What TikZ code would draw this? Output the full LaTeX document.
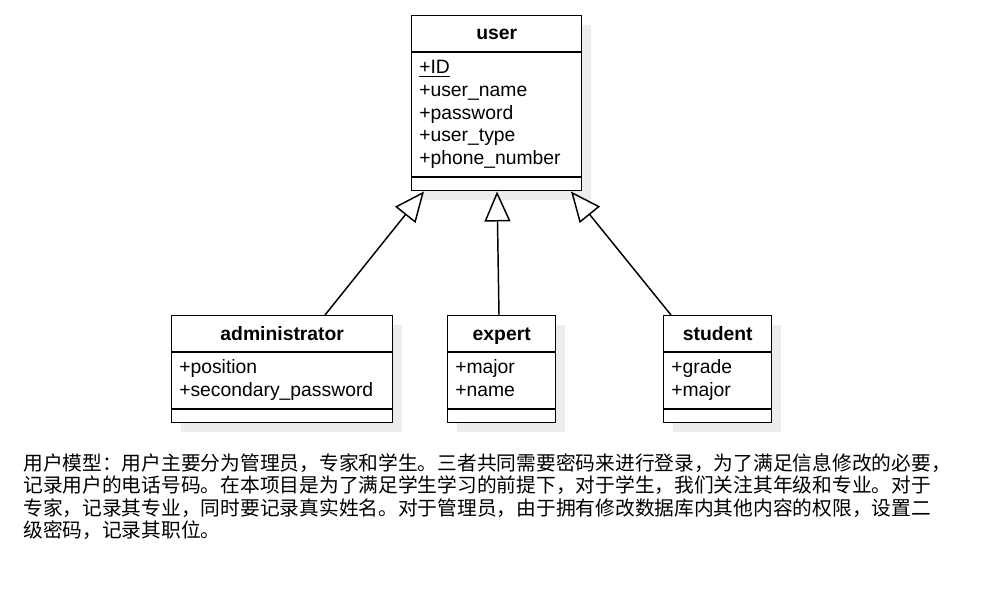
\documentclass[tikz,border=0pt]{standalone}
\usepackage{fontspec}
\setmainfont{Liberation Sans}
\newfontfamily\cjk{Noto Sans CJK SC}
\usetikzlibrary{arrows.meta,calc,shadows}
\begin{document}
\begin{tikzpicture}[x=0.75pt,y=-0.75pt,
  cls/.style={draw=black, line width=1.1pt, fill=white, anchor=north west, inner sep=0pt,
    general shadow={fill=black!7, shadow xshift=6.75pt, shadow yshift=-6.75pt}},
  sep/.style={line width=1.1pt},
  ttl/.style={font=\bfseries\fontsize{14.5}{16}\selectfont, anchor=base, inner sep=0pt},
  attr/.style={font=\fontsize{14.5}{16.9}\selectfont, anchor=base west, align=left, inner sep=0pt},
  para/.style={font=\cjk\fontsize{14.8}{16.9}\selectfont, anchor=base west, align=left, inner sep=0pt},
  inherit/.style={line width=1.1pt, -{Triangle[open, length=22.5pt, width=19.5pt, line width=1.1pt]}}
]
\fill[white] (0,0) rectangle (1005,610);
\useasboundingbox (0,0) rectangle (1005,610);

% user
\node[cls, minimum width=127.5pt, minimum height=131.25pt] (user) at (411,15) {};
\draw[sep] ($(user.north west)+(0,37)$) -- ($(user.north east)+(0,37)$);
\draw[sep] ($(user.north west)+(0,162)$) -- ($(user.north east)+(0,162)$);
\node[ttl] (usert) at ($(user.north)+(0,25)$) {user};
\node[attr] (usera) at ($(user.north west)+(8,149.1)$) {\underline{+ID}\\+user\_name\\+password\\+user\_type\\+phone\_number};

% administrator
\node[cls, minimum width=165.75pt, minimum height=80.25pt] (admin) at (171,315) {};
\draw[sep] ($(admin.north west)+(0,37)$) -- ($(admin.north east)+(0,37)$);
\draw[sep] ($(admin.north west)+(0,94)$) -- ($(admin.north east)+(0,94)$);
\node[ttl] (admint) at ($(admin.north)+(0,25)$) {administrator};
\node[attr] (admina) at ($(admin.north west)+(8,81.5)$) {+position\\+secondary\_password};

% expert
\node[cls, minimum width=81pt, minimum height=80.25pt] (expert) at (447,315) {};
\draw[sep] ($(expert.north west)+(0,37)$) -- ($(expert.north east)+(0,37)$);
\draw[sep] ($(expert.north west)+(0,94)$) -- ($(expert.north east)+(0,94)$);
\node[ttl] (expertt) at ($(expert.north)+(0,25)$) {expert};
\node[attr] (experta) at ($(expert.north west)+(8,81.5)$) {+major\\+name};

% student
\node[cls, minimum width=81pt, minimum height=80.25pt] (student) at (663,315) {};
\draw[sep] ($(student.north west)+(0,37)$) -- ($(student.north east)+(0,37)$);
\draw[sep] ($(student.north west)+(0,94)$) -- ($(student.north east)+(0,94)$);
\node[ttl] (studentt) at ($(student.north)+(0,25)$) {student};
\node[attr] (studenta) at ($(student.north west)+(8,81.5)$) {+grade\\+major};

% inheritance
\draw[inherit] ($(admin.north west)+(154,0)$) -- ($(user.south west)+(13,0)$);
\draw[inherit] ($(expert.north west)+(52,0)$) -- ($(user.south west)+(86,0)$);
\draw[inherit] ($(student.north west)+(8,0)$) -- ($(user.south west)+(160,0)$);

% description
\node[para] (desc) at (23,537.6) {用户模型：用户主要分为管理员，专家和学生。三者共同需要密码来进行登录，为了满足信息修改的必要，\\记录用户的电话号码。在本项目是为了满足学生学习的前提下，对于学生，我们关注其年级和专业。对于\\专家，记录其专业，同时要记录真实姓名。对于管理员，由于拥有修改数据库内其他内容的权限，设置二\\级密码，记录其职位。};
\end{tikzpicture}
\end{document}
